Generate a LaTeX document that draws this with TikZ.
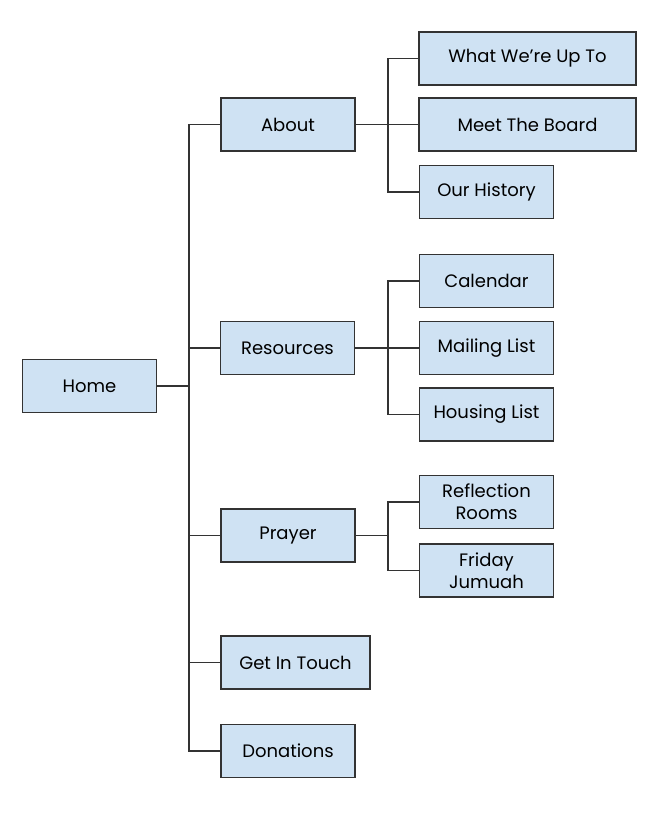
\documentclass[tikz,border=0pt]{standalone}
\usepackage{fontspec}
\setmainfont{Poppins}
\definecolor{boxblue}{HTML}{CFE2F3}
\definecolor{edgegray}{HTML}{333333}
\tikzset{
  page/.style={inner sep=0pt, minimum width=134, minimum height=53, draw=edgegray, fill=boxblue, line width=1.2pt, font=\fontsize{18}{22}\selectfont, align=center},
  wide/.style={page, minimum width=217},
  link/.style={draw=edgegray, line width=1.2pt}
}
\begin{document}
\begin{tikzpicture}[x=1pt,y=-1pt]
\useasboundingbox (0,0) rectangle (670,814);
\node[page] (home) at (89.5,386){Home};
\coordinate (trunk) at (189,386);
\node[page] (about) at (288,124.5){About};
\coordinate (aboutsub) at (388,124.5);
\node[wide] (upto) at (527.5,58.5){What We’re Up To};
\node[wide] (board) at (527.5,124.5){Meet The Board};
\node[page] (history) at (486.5,192){Our History};
\draw[link](about) -- (aboutsub);
\draw[link](aboutsub) |- (upto);
\draw[link](aboutsub) -- (board);
\draw[link](aboutsub) |- (history);
\node[page] (resources) at (287.5,348){Resources};
\coordinate (ressub) at (388,348);
\node[page] (calendar) at (486.5,281){Calendar};
\node[page] (mailing) at (486.5,348){Mailing List};
\node[page] (housing) at (486.5,414.5){Housing List};
\draw[link](resources) -- (ressub);
\draw[link](ressub) |- (calendar);
\draw[link](ressub) -- (mailing);
\draw[link](ressub) |- (housing);
\node[page] (prayer) at (288,535.5){Prayer};
\coordinate (prayersub) at (388,535.5);
\node[page] (reflection) at (486.5,502){Reflection\\Rooms};
\node[page] (jumuah) at (486.5,570.5){Friday\\Jumuah};
\draw[link](prayer) -- (prayersub);
\draw[link](prayersub) |- (reflection);
\draw[link](prayersub) |- (jumuah);
\node[page, minimum width=149] (touch) at (295.5,662.5){Get In Touch};
\node[page] (donations) at (288,751){Donations};
\draw[link](home) -- (trunk);
\draw[link](trunk) |- (about);
\draw[link](trunk) |- (resources);
\draw[link](trunk) |- (prayer);
\draw[link](trunk) |- (touch);
\draw[link](trunk) |- (donations);
\end{tikzpicture}
\end{document}
